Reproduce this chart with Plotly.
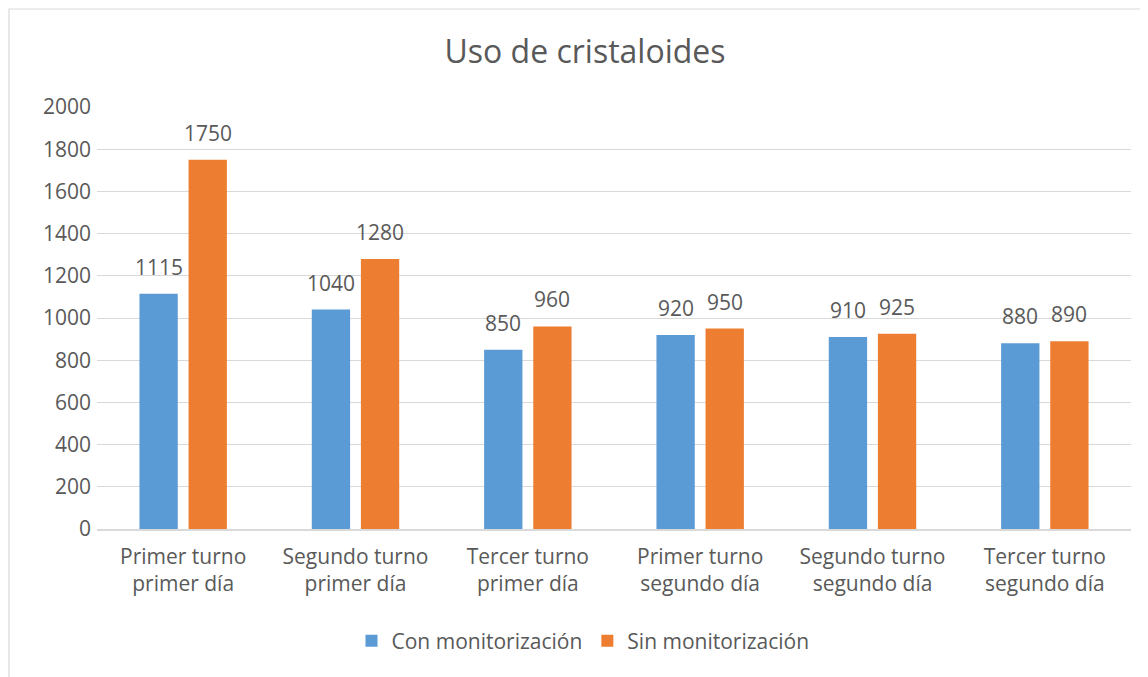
import plotly.graph_objects as go

categories = ["Primer turno<br>primer día", "Segundo turno<br>primer día", "Tercer turno<br>primer día",
              "Primer turno<br>segundo día", "Segundo turno<br>segundo día", "Tercer turno<br>segundo día"]
con_monitorizacion = [1115, 1040, 850, 920, 910, 880]
sin_monitorizacion = [1750, 1280, 960, 950, 925, 890]
y_ticks = list(range(0, 2001, 200))

# page body has an 8px margin; figure is sized so that absolute positions match
OFF = 8
W, H = 1148 - OFF, 677 - OFF
L, R, T, B = 97 - OFF, 17, 107 - OFF, 148
pw, ph = W - L - R, H - T - B

FONT = "Open Sans"
TXT = "#595959"
FS = 21

fig = go.Figure()
fig.add_trace(go.Bar(name="Con monitorización", x=categories, y=con_monitorizacion,
                     marker=dict(color="#5B9BD5", line=dict(width=0))))
fig.add_trace(go.Bar(name="Sin monitorización", x=categories, y=sin_monitorizacion,
                     marker=dict(color="#ED7D31", line=dict(width=0))))

# value labels above the bars (offset by half a bar slot on each side)
for vals, dx in ((con_monitorizacion, -24.5), (sin_monitorizacion, 24.5)):
    for c, v in zip(categories, vals):
        fig.add_annotation(x=c, y=v, text=str(v), showarrow=False, xshift=dx, yshift=27,
                           xanchor="center", yanchor="middle",
                           font=dict(family=FONT, size=FS, color=TXT))

fig.update_layout(
    width=W, height=H,
    margin=dict(l=L, r=R, t=T, b=B),
    paper_bgcolor="white", plot_bgcolor="white",
    barmode="group", bargap=0.43, bargroupgap=0.22,
    font=dict(family=FONT, size=FS, color=TXT),
    title=dict(text="Uso de cristaloides", x=(585 - 97) / pw, xref="paper", xanchor="center",
               y=1 - (52 - OFF) / H, yref="container", yanchor="middle",
               font=dict(family=FONT, size=32, color=TXT)),
    legend=dict(orientation="h", x=(583 - 97) / pw, xanchor="center", y=(529 - 641) / ph, yanchor="middle",
                font=dict(family=FONT, size=FS, color=TXT), traceorder="normal"),
    xaxis=dict(showgrid=False, showline=True, linecolor="#D9D9D9", linewidth=1.5, ticks="",
               ticklabelstandoff=8,
               tickfont=dict(family=FONT, size=FS, color=TXT)),
    yaxis=dict(range=[0, 2000], tickvals=y_ticks, showgrid=True, gridcolor="#D9D9D9", gridwidth=1.2,
               zeroline=False, showline=False, ticks="", ticklen=0, ticklabelstandoff=5,
               tickfont=dict(family=FONT, size=FS, color=TXT)),
)

fig.add_shape(type="rect", xref="paper", yref="paper",
              x0=(9 - 97) / pw, x1=(1160 - 97) / pw, y0=-(700 - 529) / ph, y1=1 + (107 - 9) / ph,
              line=dict(color="#D9D9D9", width=1.2), fillcolor="rgba(0,0,0,0)", layer="below")

fig.write_html("out.html")
